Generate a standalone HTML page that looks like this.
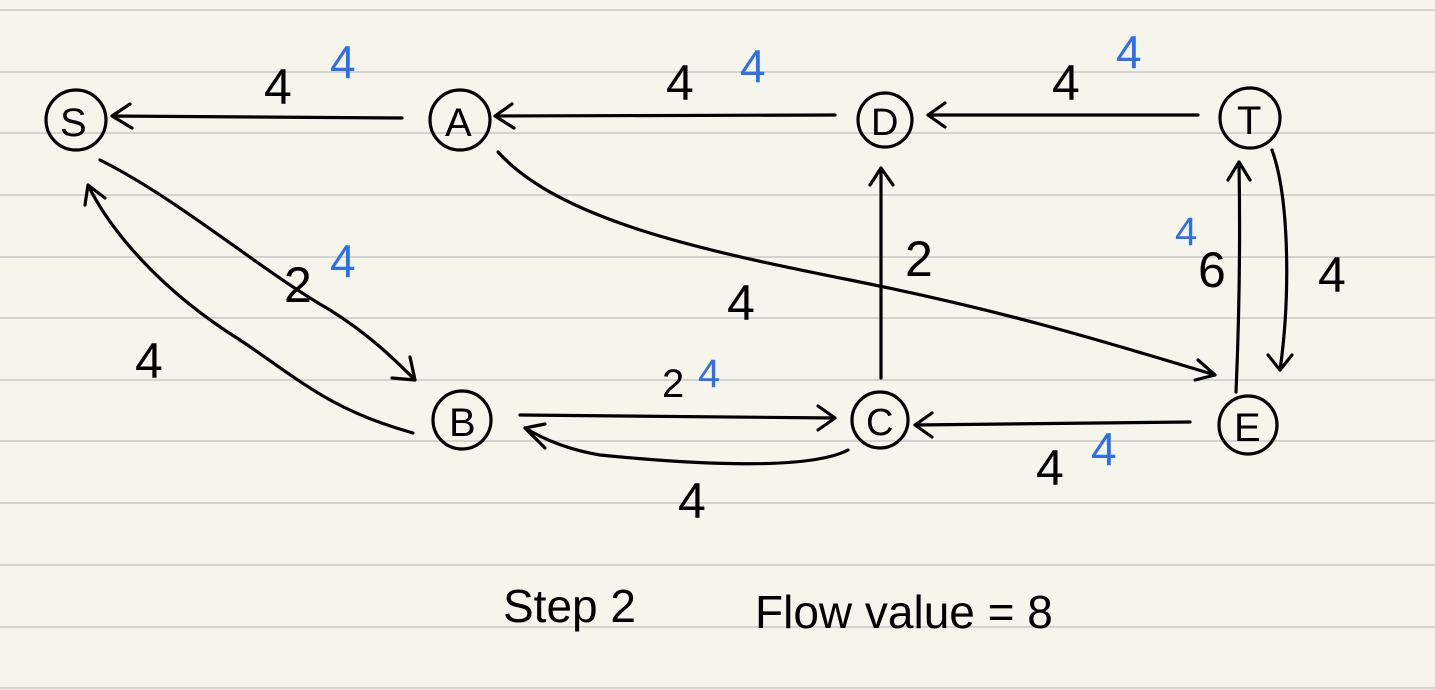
<!DOCTYPE html>
<html><head><style>
html,body{margin:0;padding:0;background:#f5f5eb;}
svg{display:block}
text{font-family:"Liberation Sans",sans-serif;}
</style></head><body>
<svg width="1435" height="690" viewBox="0 0 1435 690" xmlns="http://www.w3.org/2000/svg">
<rect width="1435" height="690" fill="#f5f5eb"/>
<g stroke="#d3d3cf" stroke-width="2">
<line x1="0" y1="10" x2="1435" y2="10"/><line x1="0" y1="72" x2="1435" y2="72"/>
<line x1="0" y1="133" x2="1435" y2="133"/><line x1="0" y1="195" x2="1435" y2="195"/>
<line x1="0" y1="257" x2="1435" y2="257"/><line x1="0" y1="318" x2="1435" y2="318"/>
<line x1="0" y1="380" x2="1435" y2="380"/><line x1="0" y1="441" x2="1435" y2="441"/>
<line x1="0" y1="503" x2="1435" y2="503"/><line x1="0" y1="565" x2="1435" y2="565"/>
<line x1="0" y1="627" x2="1435" y2="627"/><line x1="0" y1="688" x2="1435" y2="688"/>
</g>
<g fill="none" stroke="#000" stroke-width="3.2" stroke-linecap="round" stroke-linejoin="round">
<circle cx="76" cy="120" r="30"/><circle cx="460" cy="120" r="30"/>
<circle cx="885" cy="120" r="27"/><circle cx="1250" cy="118" r="30"/>
<circle cx="462" cy="420" r="29"/><circle cx="880" cy="420" r="28"/>
<circle cx="1248" cy="425" r="29"/>
<path d="M402 118 L112 116 M130 104 L112 116 L132 128"/>
<path d="M835 115 L495 116 M512 104 L495 116 L514 128"/>
<path d="M1198 115 L928 115 M945 103 L928 115 L945 127"/>
<path d="M100 160 C180 200 260 270 330 310 C370 335 395 360 415 380 M392 378 L415 380 L410 357"/>
<path d="M413 433 C330 410 300 380 240 340 C160 290 110 230 88 185 M85 205 L88 185 L105 198"/>
<path d="M498 152 C560 220 700 250 850 280 C1000 310 1100 340 1215 375 M1198 360 L1215 375 L1195 380"/>
<path d="M881 378 L881 168 M870 185 L881 168 L893 185"/>
<path d="M520 415 L835 418 M818 406 L835 418 L818 430"/>
<path d="M848 450 C810 470 700 465 600 455 C570 450 545 440 525 428 M545 448 L525 428 L545 424"/>
<path d="M1190 422 L915 425 M932 413 L915 425 L932 437"/>
<path d="M1236 392 C1240 300 1240 220 1239 162 M1228 180 L1239 162 L1250 180"/>
<path d="M1272 150 C1290 200 1290 300 1280 370 M1268 355 L1280 370 L1292 355"/>
</g>
<g font-size="50" fill="#000">
<text x="60" y="136" font-size="40">S</text>
<text x="445" y="136" font-size="40">A</text>
<text x="871" y="135" font-size="38">D</text>
<text x="1237" y="134" font-size="40">T</text>
<text x="449" y="436" font-size="40">B</text>
<text x="866" y="435" font-size="38">C</text>
<text x="1234" y="441" font-size="40">E</text>
<text x="264" y="104">4</text>
<text x="666" y="100">4</text>
<text x="1052" y="100">4</text>
<text x="284" y="302">2</text>
<text x="135" y="378">4</text>
<text x="727" y="320">4</text>
<text x="905" y="276">2</text>
<text x="1198" y="287">6</text>
<text x="1318" y="292">4</text>
<text x="662" y="397" font-size="40">2</text>
<text x="678" y="518">4</text>
<text x="1036" y="485">4</text>
<text x="503" y="622" font-size="46">Step 2</text>
<text x="755" y="628" font-size="46">Flow value = 8</text>
</g>
<g font-size="46" fill="#2f6fe8">
<text x="330" y="78">4</text>
<text x="740" y="82">4</text>
<text x="1116" y="68">4</text>
<text x="330" y="277">4</text>
<text x="1175" y="245" font-size="40">4</text>
<text x="698" y="387" font-size="40">4</text>
<text x="1091" y="465">4</text>
</g>
</svg>
</body></html>
